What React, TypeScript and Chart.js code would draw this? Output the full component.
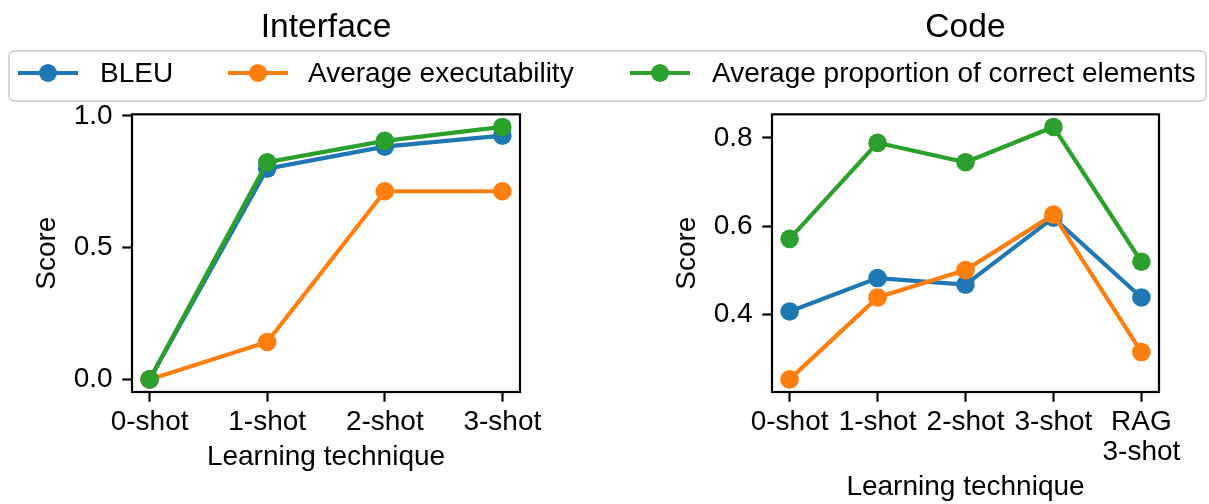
import React, { useEffect, useRef } from "react";
import { Chart, registerables } from "chart.js";

Chart.register(...registerables);

// ---- data ----
const interfaceLabels: (string | string[])[] = ["0-shot", "1-shot", "2-shot", "3-shot"];
const interfaceBleu = [0.0, 0.8, 0.883, 0.925];
const interfaceExec = [0.0, 0.142, 0.714, 0.714];
const interfaceCorrect = [0.0, 0.824, 0.905, 0.958];
const interfaceYTicks = [0.0, 0.5, 1.0];

const codeLabels: (string | string[])[] = ["0-shot", "1-shot", "2-shot", "3-shot", ["RAG", "3-shot"]];
const codeBleu = [0.406, 0.482, 0.467, 0.619, 0.438];
const codeExec = [0.252, 0.438, 0.5, 0.626, 0.314];
const codeCorrect = [0.571, 0.789, 0.745, 0.825, 0.519];
const codeYTicks = [0.4, 0.6, 0.8];

const seriesNames = ["BLEU", "Average executability", "Average proportion of correct elements"];
const seriesColors = ["#1f77b4", "#ff7f0e", "#2ca02c"];

const FONT = "'Liberation Sans', Arial, sans-serif";
const FS = 28;
const W = 1209;
const H = 504;
const MR = 9.3;

const framePlugin = {
  id: "frame",
  afterDatasetsDraw(chart: any) {
    const { ctx, chartArea: a } = chart;
    ctx.save();
    ctx.strokeStyle = "#000";
    ctx.lineWidth = 2.2;
    ctx.strokeRect(a.left, a.top, a.right - a.left, a.bottom - a.top);
    ctx.restore();
  },
};

function makeConfig(
  title: string,
  labels: (string | string[])[],
  series: number[][],
  yTicks: number[],
  padLeft: number,
  padRight: number,
  xTitlePadBottom: number
): any {
  const n = labels.length;
  const all = series.flat();
  const lo = Math.min(...all);
  const hi = Math.max(...all);
  const m = (hi - lo) * 0.05;
  const xm = (n - 1) * 0.05;
  const font = { family: FONT, size: FS };
  const grid = {
    drawOnChartArea: false,
    drawTicks: true,
    tickLength: 9.7,
    tickWidth: 2.2,
    tickColor: "#000",
    color: "#000",
  };
  return {
    type: "line",
    data: {
      datasets: series.map((vals, si) => ({
        label: seriesNames[si],
        data: vals.map((v, i) => ({ x: i, y: v })),
        borderColor: seriesColors[si],
        backgroundColor: seriesColors[si],
        pointBackgroundColor: seriesColors[si],
        pointBorderWidth: 0,
        pointRadius: MR,
        pointHoverRadius: MR,
        borderWidth: 4.2,
        tension: 0,
        order: 2 - si,
        clip: false,
      })),
    },
    options: {
      animation: false,
      responsive: false,
      devicePixelRatio: 1,
      events: [],
      layout: { padding: { left: padLeft, right: padRight, top: 0, bottom: 0 } },
      plugins: {
        legend: { display: false },
        tooltip: { enabled: false },
        title: {
          display: true,
          text: title,
          fullSize: false,
          color: "#000",
          font: { family: FONT, size: 33.6, weight: "normal", lineHeight: 1.2 },
          padding: { top: 8, bottom: 66 },
        },
      },
      scales: {
        x: {
          type: "linear",
          min: -xm,
          max: n - 1 + xm,
          afterBuildTicks: (s: any) => {
            s.ticks = labels.map((_, i) => ({ value: i }));
          },
          afterFit: (s: any) => {
            s.height = 112;
          },
          ticks: {
            callback: (_v: any, i: number) => labels[i],
            font: { ...font, lineHeight: 1.06 },
            color: "#000",
            padding: 5.6,
            maxRotation: 0,
            minRotation: 0,
            autoSkip: false,
          },
          grid,
          border: { display: false },
          title: {
            display: true,
            text: "Learning technique",
            color: "#000",
            font: { ...font, lineHeight: 1.2 },
            padding: { top: 0, bottom: xTitlePadBottom },
          },
        },
        y: {
          type: "linear",
          min: lo - m,
          max: hi + m,
          afterBuildTicks: (s: any) => {
            s.ticks = yTicks.map((v) => ({ value: v }));
          },
          afterFit: (s: any) => {
            s.width = 132;
          },
          ticks: {
            callback: (v: any) => Number(v).toFixed(1),
            font,
            color: "#000",
            padding: 9.7,
          },
          grid,
          border: { display: false },
          title: {
            display: true,
            text: "Score",
            color: "#000",
            font: { ...font, lineHeight: 1.2 },
            padding: { top: 30.5, bottom: 0 },
          },
        },
      },
    },
    plugins: [framePlugin],
  };
}

const legendLineStarts = [18, 228, 630];
const legendTextStarts = [100, 308, 712];

export default function App() {
  const leftRef = useRef<HTMLCanvasElement>(null);
  const rightRef = useRef<HTMLCanvasElement>(null);

  useEffect(() => {
    const c1 = new Chart(
      leftRef.current as HTMLCanvasElement,
      makeConfig("Interface", interfaceLabels, [interfaceBleu, interfaceExec, interfaceCorrect], interfaceYTicks, 0, W - 520, 30)
    );
    const c2 = new Chart(
      rightRef.current as HTMLCanvasElement,
      makeConfig("Code", codeLabels, [codeBleu, codeExec, codeCorrect], codeYTicks, 640, W - 1159, 0.3)
    );
    return () => {
      c1.destroy();
      c2.destroy();
    };
  }, []);

  const cy = 73;
  return (
    <div style={{ position: "fixed", left: 0, top: 0, width: W, height: H, background: "#fff", overflow: "hidden" }}>
      <canvas ref={leftRef} width={W} height={H} style={{ position: "absolute", left: 0, top: 0, width: W, height: H }} />
      <canvas ref={rightRef} width={W} height={H} style={{ position: "absolute", left: 0, top: 0, width: W, height: H }} />
      <div
        style={{
          position: "absolute",
          left: 8,
          top: 50,
          width: 1199,
          height: 52,
          boxSizing: "border-box",
          border: "2px solid #d6d6d6",
          borderRadius: 6,
          background: "rgba(255,255,255,0.8)",
        }}
      />
      {seriesNames.map((name, i) => (
        <React.Fragment key={name}>
          <div
            style={{
              position: "absolute",
              left: legendLineStarts[i],
              top: cy - 2.1,
              width: 60,
              height: 4.2,
              background: seriesColors[i],
            }}
          />
          <div
            style={{
              position: "absolute",
              left: legendLineStarts[i] + 30 - MR,
              top: cy - MR,
              width: MR * 2,
              height: MR * 2,
              borderRadius: "50%",
              background: seriesColors[i],
            }}
          />
          <div
            style={{
              position: "absolute",
              left: legendTextStarts[i],
              top: 47.3,
              height: 52,
              lineHeight: "52px",
              fontFamily: FONT,
              fontSize: FS,
              color: "#000",
              whiteSpace: "nowrap",
            }}
          >
            {name}
          </div>
        </React.Fragment>
      ))}
    </div>
  );
}
